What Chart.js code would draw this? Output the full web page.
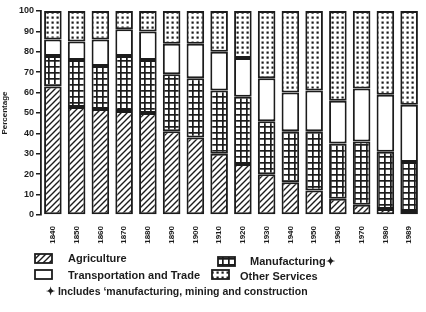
<!DOCTYPE html>
<html>
<head>
<meta charset="utf-8">
<script src="https://cdn.jsdelivr.net/npm/chart.js@4.4.1/dist/chart.umd.min.js"></script>
<style>
  html, body { margin: 0; padding: 0; background: #fff; }
  #wrap { position: relative; width: 426px; height: 312px; }
</style>
</head>
<body>
<div id="wrap"><canvas id="laborChart" width="426" height="312"></canvas></div>
<script>
// Share of the labour force by sector
const years = ['1840', '1850', '1860', '1870', '1880', '1890', '1900', '1910',
               '1920', '1930', '1940', '1950', '1960', '1970', '1980', '1989'];
const agriculture    = [63, 53, 52, 51, 50, 41, 38, 30, 25, 20, 16, 12,  8,  5,  3,  2];
const manufacturing  = [15, 23, 21, 27, 26, 28, 29, 31, 33, 26, 25, 29, 27, 31, 28, 24];
const transportation = [ 8,  9, 13, 13, 14, 15, 17, 19, 19, 21, 19, 20, 21, 26, 28, 28];
const otherServices  = [14, 15, 14,  9, 10, 16, 16, 20, 23, 33, 40, 39, 44, 38, 41, 46];
const yTicks = [0, 10, 20, 30, 40, 50, 60, 70, 80, 90, 100];

const ink = '#1c1c1c';
const fontFamily = "'Liberation Sans', Arial, sans-serif";

// Small tiles used as fills, like the hatching in the print
function makePattern(kind) {
    const tile = document.createElement('canvas');
    const p = tile.getContext('2d');
    tile.width = kind === 'dots' ? 5 : 6;
    tile.height = kind === 'dots' ? 5 : 6;
    p.fillStyle = '#ffffff';
    p.fillRect(0, 0, tile.width, tile.height);
    p.strokeStyle = ink;
    p.fillStyle = ink;
    if (kind === 'hatch') {
        p.lineWidth = 1.4;
        p.beginPath();
        p.moveTo(-1, 7); p.lineTo(7, -1);
        p.moveTo(-1, 1); p.lineTo(1, -1);
        p.moveTo(5, 7); p.lineTo(7, 5);
        p.stroke();
    } else if (kind === 'grid') {
        p.fillRect(0, 0, 6, 1.7);
        p.fillRect(0, 0, 1.7, 6);
    } else if (kind === 'dots') {
        p.fillRect(1.5, 1.5, 2.2, 2.2);
    }
    return tile;
}

const ctx = document.getElementById('laborChart').getContext('2d');
const fills = {
    hatch: ctx.createPattern(makePattern('hatch'), 'repeat'),
    grid: ctx.createPattern(makePattern('grid'), 'repeat'),
    plain: '#ffffff',
    dots: ctx.createPattern(makePattern('dots'), 'repeat')
};

// Legend laid out in two columns under the axis, plus the footnote
const legendItems = [
    { text: 'Agriculture', fill: fills.hatch, box: [35, 254], tx: 68, ty: 259 },
    { text: 'Manufacturing\u2726', fill: fills.grid, box: [218, 257], tx: 250, ty: 262 },
    { text: 'Transportation and Trade', fill: fills.plain, box: [35, 270], tx: 68, ty: 276 },
    { text: 'Other Services', fill: fills.dots, box: [212, 270], tx: 240, ty: 277 }
];
const footnote = { text: '\u2726 Includes \u2018manufacturing, mining and construction', x: 46, y: 292 };

const legendPlugin = {
    id: 'printedLegend',
    afterDraw(chart) {
        const c = chart.ctx;
        c.save();
        c.textBaseline = 'middle';
        c.textAlign = 'left';
        c.font = 'bold 11px ' + fontFamily;
        legendItems.forEach(item => {
            c.fillStyle = item.fill;
            c.fillRect(item.box[0], item.box[1], 17, 9);
            c.strokeStyle = ink;
            c.lineWidth = 1.8;
            c.strokeRect(item.box[0], item.box[1], 17, 9);
            c.fillStyle = ink;
            c.fillText(item.text, item.tx, item.ty);
        });
        c.font = 'bold 10.5px ' + fontFamily;
        c.fillText(footnote.text, footnote.x, footnote.y);
        c.restore();
    }
};

function series(label, data, fill) {
    return {
        label: label,
        data: data,
        backgroundColor: fill,
        borderColor: ink,
        borderWidth: 2,
        borderSkipped: false,
        barPercentage: 0.74,
        categoryPercentage: 1.0
    };
}

new Chart(ctx, {
    type: 'bar',
    data: {
        labels: years,
        datasets: [
            series('Agriculture', agriculture, fills.hatch),
            series('Manufacturing', manufacturing, fills.grid),
            series('Transportation and Trade', transportation, fills.plain),
            series('Other Services', otherServices, fills.dots)
        ]
    },
    options: {
        responsive: false,
        animation: false,
        layout: {
            padding: { left: 0, right: 5, top: 11, bottom: 57 }
        },
        plugins: {
            legend: { display: false },
            tooltip: { enabled: false }
        },
        scales: {
            x: {
                stacked: true,
                grid: { display: false },
                border: { display: false },
                ticks: {
                    color: ink,
                    minRotation: 90,
                    maxRotation: 90,
                    padding: 3,
                    font: { family: fontFamily, size: 8, weight: 'bold' }
                },
                afterFit: scale => { scale.height = 40; }
            },
            y: {
                stacked: true,
                min: 0,
                max: 100,
                afterBuildTicks: scale => {
                    scale.ticks = yTicks.map(v => ({ value: v }));
                },
                grid: {
                    drawOnChartArea: false,
                    drawTicks: true,
                    tickLength: 5,
                    color: ink,
                    lineWidth: 1.5
                },
                border: { display: true, color: ink, width: 1.8 },
                ticks: {
                    color: ink,
                    padding: 2,
                    font: { family: fontFamily, size: 9, weight: 'bold' }
                },
                title: {
                    display: true,
                    text: 'Percentage',
                    color: ink,
                    padding: 0,
                    font: { family: fontFamily, size: 8, weight: 'bold' }
                },
                afterFit: scale => { scale.width = 41; }
            }
        }
    },
    plugins: [legendPlugin]
});
</script>
</body>
</html>
